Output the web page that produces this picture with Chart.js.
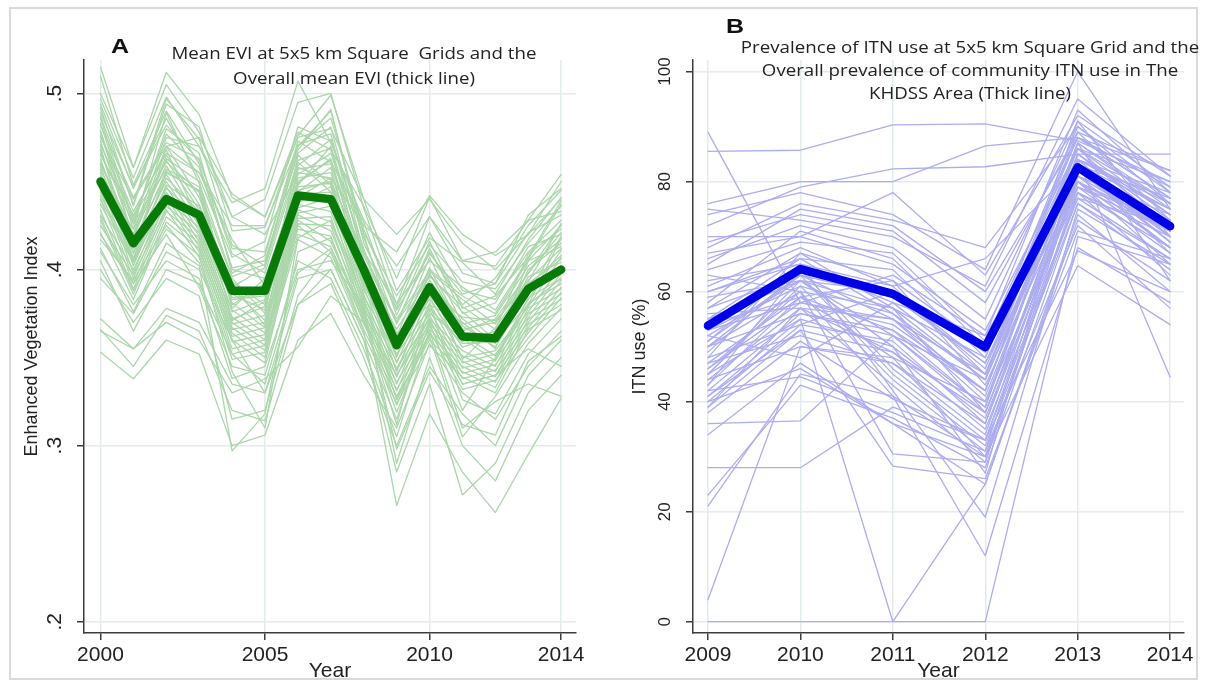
<!DOCTYPE html>
<html>
<head>
<meta charset="utf-8">
<script src="https://cdn.jsdelivr.net/npm/chart.js@4.4.0/dist/chart.umd.min.js"></script>
<style>
  html, body { margin: 0; padding: 0; background: #fff; }
  body { width: 1209px; height: 681px; position: relative; overflow: hidden; }
  .frame { position: absolute; left: 9px; top: 7px; width: 1189px; height: 673px;
           border: 2px solid #dadada; box-sizing: border-box; }
  canvas { position: absolute; top: 0; }
  #eviChart { left: 0; }
  #itnChart { left: 600px; }
  .panel { position: absolute; font: bold 20px "Liberation Sans", Arial, sans-serif;
           line-height: 20px; color: #111; transform: scaleX(1.25); transform-origin: 0 0; }
  .title { position: absolute; transform: translateX(-50%) scaleX(1.1); font-family: "Open Sans", sans-serif;
           font-size: 17px; text-align: center; color: #222; white-space: pre; }
</style>
</head>
<body>
<div class="frame"></div>
<canvas id="eviChart" width="600" height="681"></canvas>
<canvas id="itnChart" width="609" height="681"></canvas>
<div class="panel" style="left:111px; top:36px;">A</div>
<div class="panel" style="left:726px; top:16px;">B</div>
<div class="title" style="left:354px; top:41px; line-height:24.5px;">Mean EVI at 5x5 km Square  Grids and the
Overall mean EVI (thick line)</div>
<div class="title" style="left:970px; top:35px; line-height:23px;">Prevalence of ITN use at 5x5 km Square Grid and the
Overall prevalence of community ITN use in The
KHDSS Area (Thick line)</div>
<script>
// ---- panel A: enhanced vegetation index per 5x5 km grid ----
const eviYears = [2000, 2001, 2002, 2003, 2004, 2005, 2006, 2007, 2008, 2009, 2010, 2011, 2012, 2013, 2014];
const eviXTicks = [2000, 2005, 2010, 2014];
const eviYTicks = [0.2, 0.3, 0.4, 0.5];
const eviMean = [0.450, 0.415, 0.440, 0.431, 0.388, 0.388, 0.442, 0.440, 0.400, 0.357, 0.390, 0.362, 0.361, 0.389, 0.400];
const eviGrids = [
  [.515,.458,.512,.488,.441,.430,.478,.468,.436,.395,.441,.405,.402,.428,.454],
  [.497,.452,.498,.470,.438,.446,.507,.472,.428,.402,.430,.398,.392,.431,.446],
  [.492,.436,.494,.481,.422,.424,.476,.499,.440,.388,.418,.404,.386,.417,.441],
  [.489,.447,.482,.462,.412,.410,.470,.486,.423,.378,.421,.388,.383,.410,.428],
  [.486,.428,.477,.458,.401,.405,.466,.481,.410,.381,.405,.390,.377,.406,.437],
  [.482,.441,.472,.463,.409,.398,.459,.474,.418,.369,.412,.375,.381,.413,.420],
  [.479,.423,.489,.449,.396,.403,.471,.477,.405,.372,.399,.383,.369,.398,.426],
  [.476,.433,.466,.455,.417,.391,.454,.466,.412,.362,.407,.369,.374,.402,.417],
  [.473,.418,.470,.441,.390,.401,.462,.469,.400,.366,.396,.379,.366,.409,.423],
  [.471,.430,.461,.444,.384,.386,.449,.463,.396,.359,.401,.366,.370,.394,.412],
  [.500,.458,.505,.478,.430,.420,.455,.452,.425,.410,.442,.420,.408,.420,.440],
  [.475,.440,.470,.475,.443,.430,.475,.480,.440,.420,.440,.415,.400,.420,.450],
  [.510,.448,.490,.460,.400,.395,.445,.450,.410,.370,.410,.380,.395,.425,.445],
  [.460,.420,.475,.470,.430,.440,.495,.500,.435,.380,.430,.405,.410,.428,.433],
  [.494,.446,.486,.452,.407,.416,.481,.473,.421,.385,.414,.393,.389,.415,.436],
  [.487,.437,.497,.474,.414,.402,.468,.491,.415,.377,.409,.386,.392,.421,.431],
  [.483,.426,.480,.466,.398,.408,.473,.461,.427,.374,.416,.378,.385,.407,.439],
  [.468,.412,.465,.437,.393,.380,.457,.460,.402,.355,.392,.372,.358,.400,.415],
  [.466,.426,.457,.447,.380,.392,.444,.458,.392,.361,.387,.359,.365,.391,.408],
  [.463,.409,.452,.433,.386,.377,.452,.455,.398,.351,.394,.368,.356,.386,.419],
  [.461,.420,.459,.428,.376,.383,.441,.452,.388,.356,.383,.356,.362,.396,.404],
  [.459,.404,.448,.436,.389,.371,.447,.449,.393,.347,.389,.363,.351,.383,.411],
  [.457,.416,.454,.425,.372,.379,.438,.447,.385,.352,.378,.358,.359,.388,.398],
  [.455,.402,.446,.430,.381,.367,.443,.444,.390,.343,.385,.350,.354,.379,.407],
  [.452,.413,.450,.422,.369,.374,.435,.441,.381,.348,.375,.361,.348,.384,.395],
  [.450,.398,.443,.427,.377,.364,.440,.438,.386,.339,.381,.347,.352,.376,.402],
  [.447,.410,.447,.419,.366,.370,.432,.436,.378,.344,.372,.354,.345,.381,.392],
  [.445,.395,.439,.424,.373,.360,.437,.433,.383,.335,.377,.344,.349,.373,.398],
  [.442,.407,.444,.416,.362,.367,.429,.430,.375,.340,.369,.351,.342,.378,.389],
  [.440,.392,.436,.421,.370,.357,.434,.427,.380,.331,.374,.341,.346,.370,.394],
  [.437,.404,.441,.413,.359,.363,.426,.425,.372,.336,.366,.348,.339,.375,.386],
  [.434,.389,.433,.418,.367,.354,.431,.422,.377,.327,.371,.338,.343,.367,.390],
  [.431,.400,.438,.410,.355,.360,.423,.419,.369,.332,.363,.345,.336,.372,.383],
  [.428,.386,.430,.415,.364,.350,.428,.416,.374,.323,.368,.335,.340,.364,.387],
  [.425,.397,.434,.407,.352,.357,.420,.413,.366,.328,.360,.342,.333,.369,.380],
  [.421,.383,.427,.412,.360,.347,.425,.410,.371,.319,.365,.332,.337,.361,.384],
  [.417,.394,.425,.404,.349,.353,.417,.407,.363,.324,.357,.339,.330,.366,.377],
  [.470,.405,.455,.445,.395,.375,.465,.448,.395,.350,.398,.365,.372,.398,.421],
  [.478,.418,.463,.450,.378,.395,.450,.462,.405,.364,.380,.370,.355,.405,.413],
  [.465,.431,.468,.427,.392,.368,.458,.451,.391,.358,.392,.349,.367,.393,.426],
  [.453,.423,.462,.434,.383,.385,.448,.470,.408,.370,.397,.376,.360,.380,.418],
  [.444,.414,.456,.444,.371,.382,.461,.444,.396,.342,.386,.373,.371,.392,.406],
  [.366,.345,.374,.365,.320,.314,.380,.392,.350,.300,.345,.318,.300,.340,.360],
  [.353,.338,.360,.352,.300,.306,.360,.375,.340,.310,.358,.330,.315,.345,.365],
  [.372,.355,.378,.370,.335,.330,.395,.400,.360,.285,.335,.272,.290,.330,.350],
  [.400,.370,.395,.385,.315,.320,.385,.410,.365,.266,.318,.285,.262,.295,.327],
  [.410,.380,.405,.395,.338,.345,.400,.405,.380,.290,.350,.300,.280,.320,.340],
  [.420,.392,.420,.390,.345,.340,.405,.395,.355,.305,.365,.310,.325,.335,.328],
  [.440,.405,.470,.455,.425,.425,.470,.490,.420,.360,.400,.385,.375,.405,.425],
  [.395,.375,.410,.400,.360,.330,.380,.400,.360,.315,.370,.320,.350,.380,.395],
  [.365,.355,.370,.360,.330,.338,.356,.385,.370,.340,.372,.335,.340,.355,.345],
  [.412,.376,.415,.402,.297,.318,.410,.418,.372,.312,.381,.326,.318,.352,.372],
  [.430,.388,.423,.408,.342,.310,.418,.428,.384,.326,.362,.305,.328,.358,.378],
  [.405,.365,.400,.392,.352,.335,.398,.412,.376,.298,.342,.312,.306,.348,.362]
];

// ---- panel B: ITN use (%) per 5x5 km grid ----
const itnYears = [2009, 2010, 2011, 2012, 2013, 2014];
const itnYTicks = [0, 20, 40, 60, 80, 100];
const itnMean = [53.8, 64.1, 59.6, 49.9, 82.6, 71.9];
const itnGrids = [
  [0, 0, 0, 0, 70, 65],
  [4, 50, 47, 36, 80, 68],
  [21, 45, 41, 30, 78, 70],
  [23, 43, 37, 28, 76, 66],
  [28, 28, 39, 33, 77, 72],
  [34, 47, 36, 25, 74, 60],
  [36, 36.5, 52, 44, 84, 75],
  [89, 58, 55, 42, 86, 76],
  [85.5, 85.7, 90.3, 90.5, 87.4, 80],
  [76, 80, 80, 86.5, 88, 82],
  [72, 79, 82.3, 82.7, 85, 85],
  [68, 76, 73, 68, 90, 78],
  [70, 70, 78, 63, 92, 81],
  [65, 75, 72, 60, 88, 79],
  [61, 68, 61, 66, 83, 77],
  [58, 71, 66, 50, 81, 74],
  [55, 66, 64, 48, 89, 73],
  [62, 65, 58, 45, 84, 76],
  [57, 63, 59, 47, 79, 71],
  [52, 62, 60, 46, 86, 74],
  [50, 60, 57, 44, 82, 70],
  [48, 67, 62, 43, 80, 72],
  [46, 58, 54, 42, 87, 75],
  [45, 61, 56, 41, 83, 69],
  [44, 57, 55, 40, 78, 68],
  [43, 59, 53, 39, 85, 73],
  [42, 56, 52, 38, 81, 71],
  [41, 55, 50, 37, 79, 67],
  [40, 54, 51, 36, 84, 70],
  [39, 53, 49, 35, 77, 66],
  [47, 52, 47, 34, 82, 69],
  [49, 64, 46, 33, 80, 65],
  [51, 63, 45, 32, 76, 64],
  [53, 61, 44, 31, 83, 67],
  [54, 59, 48, 30, 78, 63],
  [56, 57, 43, 29, 81, 68],
  [59, 62, 50, 27, 85, 72],
  [60, 65, 42, 19, 75, 65],
  [63, 60, 41, 12, 68, 58],
  [45, 55, 0, 25, 73, 62],
  [64, 69, 67, 51, 88, 77],
  [66, 72, 68, 55, 91, 79],
  [67, 70, 65, 53, 86, 80],
  [69, 74, 71, 58, 89, 82],
  [74, 78, 74, 64, 100, 75],
  [75, 73, 70, 61, 95, 81],
  [52, 48, 58, 52, 93, 78],
  [48, 54, 60, 49, 90, 76],
  [42, 44.5, 38, 31, 72, 57],
  [40, 46, 36, 30, 64.7, 54],
  [38, 51, 40.5, 33, 67.4, 60],
  [44, 50, 48, 40, 84, 44.5],
  [50, 63, 55, 45, 87, 62],
  [53, 58, 63, 52, 80, 71],
  [57, 67, 57, 38, 82, 69],
  [46, 60, 30.5, 29, 79, 73],
  [41, 53, 28.3, 26, 71, 66],
  [55, 62, 57, 48, 88, 77],
  [60, 66, 56, 44, 91, 70],
  [50, 56, 53, 42, 85, 74],
  [43, 64, 60, 47, 84, 78],
  [47, 59, 62, 50, 86, 71],
  [39, 57, 49, 38, 80, 68],
  [51, 65, 61, 45, 83, 75],
  [45, 62, 52, 39, 87, 76]
];

const AXIS = '#3c3c3c';
const GRID = '#e3ecec';
const SANS = '"Liberation Sans", Arial, sans-serif';

function toPoints(xs, ys) {
  return xs.map((x, i) => ({ x: x, y: ys[i] }));
}

function spaghetti(id, p) {
  const datasets = [{
    data: toPoints(p.years, p.mean),
    borderColor: p.thick,
    borderWidth: 8.5,
    order: 0
  }];
  p.grids.forEach(row => {
    datasets.push({ data: toPoints(p.years, row), borderColor: p.thin, borderWidth: 1.3, order: 1 });
  });

  new Chart(document.getElementById(id), {
    type: 'line',
    data: { datasets: datasets },
    options: {
      responsive: false,
      animation: false,
      events: [],
      layout: { padding: { left: 0, top: 60, right: p.padRight, bottom: 0 } },
      elements: {
        point: { radius: 0 },
        line: { tension: 0, borderJoinStyle: 'round', borderCapStyle: 'round' }
      },
      plugins: { legend: { display: false }, tooltip: { enabled: false } },
      scales: {
        x: {
          type: 'linear',
          min: p.xMin,
          max: p.xMax,
          afterBuildTicks: s => { s.ticks = p.xTicks.map(v => ({ value: v })); },
          afterFit: s => { s.height = 48; },
          border: { color: AXIS, width: 1.5 },
          grid: { color: GRID, lineWidth: 1.5, drawTicks: true, tickLength: 7, tickColor: AXIS, tickWidth: 1.5 },
          ticks: {
            padding: 2.5,
            color: '#222',
            font: { family: SANS, size: 21 },
            maxRotation: 0,
            callback: v => String(v)
          },
          title: {
            display: true,
            text: 'Year',
            color: '#222',
            font: { family: SANS, size: 21 },
            padding: { top: 0, bottom: -3 }
          }
        },
        y: {
          type: 'linear',
          min: p.yMin,
          max: p.yMax,
          afterBuildTicks: s => { s.ticks = p.yTicks.map(v => ({ value: v })); },
          afterFit: s => { s.width = p.yWidth; },
          border: { color: AXIS, width: 1.5 },
          grid: { color: GRID, lineWidth: 1.5, drawTicks: true, tickLength: 7, tickColor: AXIS, tickWidth: 1.5 },
          ticks: {
            minRotation: 90,
            maxRotation: 90,
            crossAlign: 'center',
            padding: p.yTickPad,
            color: '#222',
            font: { family: SANS, size: p.yTickSize },
            callback: p.yLabel
          },
          title: {
            display: true,
            text: p.yTitle,
            color: '#222',
            font: { family: SANS, size: 18 },
            padding: { top: p.yTitlePad, bottom: 0 }
          }
        }
      }
    }
  });
}

spaghetti('eviChart', {
  years: eviYears, mean: eviMean, grids: eviGrids,
  xTicks: eviXTicks, yTicks: eviYTicks,
  xMin: 1999.5, xMax: 2014.45, yMin: 0.1936, yMax: 0.519,
  thin: 'rgb(170,214,170)', thick: 'rgb(8,122,8)',
  padRight: 24, yWidth: 84, yTickPad: 13, yTickSize: 21, yTitlePad: 21,
  yTitle: 'Enhanced Vegetation Index',
  yLabel: v => v.toFixed(1).replace(/^0/, '')
});

spaghetti('itnChart', {
  years: itnYears, mean: itnMean, grids: itnGrids,
  xTicks: itnYears, yTicks: itnYTicks,
  xMin: 2008.838, xMax: 2014.15, yMin: -2.05, yMax: 102.1,
  thin: 'rgb(172,172,240)', thick: 'rgb(0,0,232)',
  padRight: 25, yWidth: 93, yTickPad: 7, yTickSize: 17, yTitlePad: 29,
  yTitle: 'ITN use (%)',
  yLabel: v => String(v)
});
</script>
</body>
</html>
